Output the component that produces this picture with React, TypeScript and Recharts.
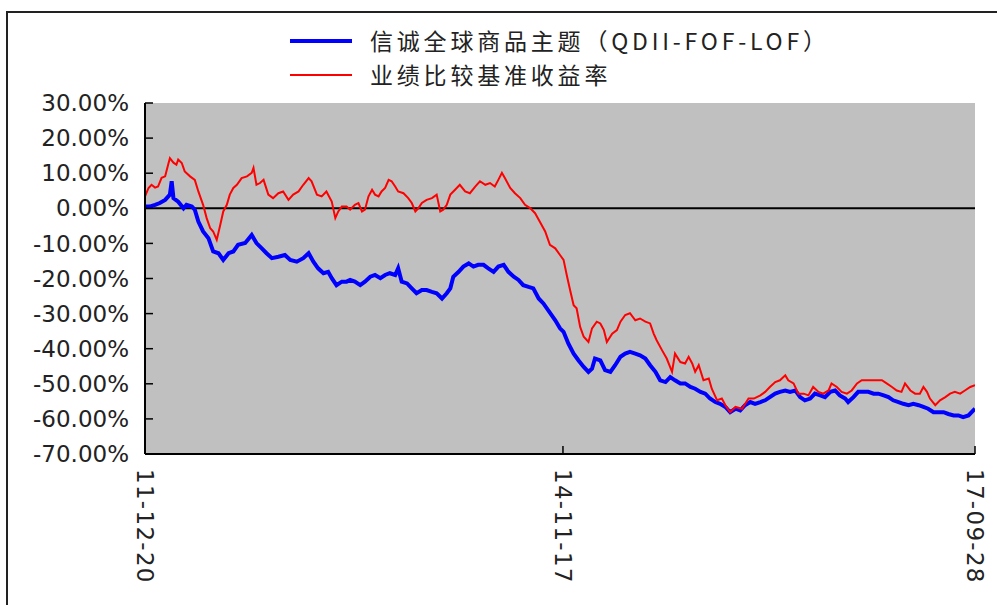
import { LineChart, Line, XAxis, YAxis, ReferenceLine, CartesianGrid } from 'recharts';

// series names + colours (legend order)
const seriesNames = ['信诚全球商品主题（QDII-FOF-LOF）', '业绩比较基准收益率'];
const seriesColors = ['#0000ff', '#ff0000'];

// x: trading day index from 2011-12-20
const dateTicks = [0, 705, 1400];
const dateLabels = ['11-12-20', '14-11-17', '17-09-28'];
const pctTicks = [30, 20, 10, 0, -10, -20, -30, -40, -50, -60, -70];

// fund cumulative return (%)
const fundDays = [
  0, 8, 17, 25, 34, 42, 45, 48, 56, 65, 70, 79, 84, 90, 98, 107, 115, 124, 132, 141, 149, 157, 169, 180, 188,
  197, 205, 214, 225, 236, 245, 256, 267, 276, 284, 292, 301, 309, 315, 323, 332, 340, 346, 354, 363, 371, 380,
  388, 397, 405, 413, 422, 427, 433, 442, 450, 458, 467, 475, 484, 492, 501, 509, 515, 520, 529, 537, 546, 554,
  562, 571, 579, 588, 596, 605, 613, 622, 630, 638, 647, 655, 664, 672, 692, 700, 706, 714, 723, 731, 740, 748,
  754, 759, 768, 776, 785, 793, 802, 810, 818, 827, 835, 844, 852, 861, 869, 878, 886, 894, 903, 911, 920, 928,
  937, 945, 953, 962, 970, 979, 987, 996, 1004, 1012, 1021, 1029, 1038, 1046, 1054, 1063, 1071, 1080, 1088, 1097,
  1105, 1113, 1122, 1130, 1139, 1147, 1156, 1164, 1172, 1181, 1186, 1195, 1203, 1212, 1220, 1229, 1237, 1246,
  1254, 1262, 1271, 1279, 1288, 1296, 1305, 1313, 1321, 1330, 1338, 1347, 1355, 1364, 1372, 1380, 1389, 1400,
];
const fundValues = [
  0.5, 0.5, 1, 1.5, 2.4, 3.9, 7.7, 2.9, 1.9, 0, 1, 0.5, -0.4, -3.8, -6.6, -8.5, -12.3, -12.8, -14.7, -12.8, -12.3,
  -10.4, -9.9, -7.6, -9.9, -11.4, -12.8, -14.2, -13.8, -13.3, -14.7, -15.2, -14.2, -12.8, -15.2, -17.1, -18.5,
  -18.1, -19.9, -21.9, -20.9, -20.9, -20.4, -20.9, -21.9, -20.9, -19.5, -19, -19.9, -19, -18.5, -19, -17.1, -20.9,
  -21.4, -22.8, -24.2, -23.3, -23.3, -23.8, -24.2, -25.7, -24.2, -22.8, -19.5, -18.1, -16.6, -15.7, -16.6, -16.1,
  -16.1, -17.1, -18.1, -16.6, -16.1, -18.1, -19.5, -20.4, -21.9, -22.4, -22.8, -25.7, -27.1, -31.9, -34.2, -35.2,
  -38.5, -41.4, -43.3, -45.2, -46.6, -45.7, -42.8, -43.3, -46.1, -46.6, -44.7, -42.3, -41.4, -40.9, -41.4, -41.9,
  -42.8, -44.7, -46.6, -49, -49.5, -48.1, -49, -49.9, -49.9, -50.9, -51.4, -52.3, -52.8, -54.2, -55.2, -55.7,
  -56.6, -58.1, -57.1, -57.6, -56.1, -55.2, -55.7, -55.2, -54.7, -53.8, -52.8, -52.3, -51.9, -52.3, -51.9, -53.8,
  -54.7, -54.2, -52.8, -53.3, -53.8, -52.3, -51.9, -53.3, -54.2, -55.2, -53.8, -52.3, -52.3, -52.3, -52.8, -52.8,
  -53.3, -53.8, -54.7, -55.2, -55.7, -56.1, -55.7, -56.1, -56.6, -57.1, -58.1, -58.1, -58.1, -58.6, -59, -59,
  -59.5, -59, -57.1,
];

// benchmark cumulative return (%)
const benchDays = [
  0, 6, 11, 17, 22, 28, 34, 39, 42, 48, 53, 56, 62, 67, 76, 84, 90, 98, 104, 110, 115, 121, 127, 132, 138, 143,
  149, 155, 163, 172, 180, 183, 188, 194, 200, 208, 216, 225, 233, 242, 250, 259, 267, 276, 281, 290, 298, 306,
  315, 321, 326, 332, 340, 346, 354, 360, 366, 371, 377, 383, 388, 394, 399, 405, 411, 416, 422, 427, 436, 444,
  450, 456, 461, 467, 475, 484, 492, 498, 503, 509, 515, 523, 531, 540, 548, 557, 565, 574, 582, 590, 596, 602,
  607, 616, 624, 633, 641, 650, 658, 666, 675, 683, 692, 700, 706, 712, 717, 723, 728, 734, 740, 748, 754, 762,
  768, 774, 779, 788, 796, 802, 810, 818, 827, 835, 844, 852, 858, 863, 872, 880, 889, 894, 903, 911, 917, 923,
  928, 934, 942, 951, 956, 965, 973, 979, 987, 996, 1007, 1018, 1027, 1038, 1046, 1054, 1063, 1071, 1080, 1085,
  1094, 1102, 1111, 1119, 1127, 1136, 1144, 1153, 1158, 1167, 1175, 1184, 1192, 1201, 1209, 1217, 1226, 1234,
  1243, 1251, 1260, 1268, 1276, 1282, 1291, 1299, 1307, 1313, 1319, 1324, 1333, 1341, 1350, 1358, 1366, 1375,
  1383, 1392, 1400,
];
const benchValues = [
  3.4, 5.8, 6.7, 5.9, 6.2, 8.7, 9.1, 12.4, 14.3, 13, 12.4, 13.9, 12.9, 10.5, 9.1, 8.1, 4.8, 1, -2.8, -5.7, -6.6,
  -9, -4.7, -0.9, 1, 3.9, 5.8, 6.7, 8.6, 9.1, 10.1, 11.5, 6.7, 7.2, 8.1, 3.9, 2.9, 4.3, 4.8, 2.4, 3.9, 4.8, 6.7,
  8.6, 7.7, 3.9, 3.4, 4.8, 1.9, -2.8, -0.9, 0.5, 0.5, -0.4, 1, 1.5, -0.9, -0.4, 3.4, 5.3, 3.9, 3.4, 4.8, 5.8,
  8.1, 7.7, 6.2, 4.8, 4.3, 2.9, 1.5, -0.9, 0, 1.5, 2.4, 2.9, 3.9, -0.9, -0.4, 1, 3.9, 5.3, 6.7, 4.8, 4.3, 6.2,
  7.7, 6.7, 7.2, 6.2, 8.1, 10.1, 8.6, 5.8, 4.3, 2.9, 1, 0, -1.4, -3.8, -6.6, -10.4, -11.4, -13.3, -14.7, -19.5,
  -23.3, -27.6, -28.5, -33.8, -36.6, -38.1, -34.2, -32.3, -32.8, -34.7, -38.1, -35.7, -34.7, -32.3, -30.4,
  -29.9, -31.9, -31.4, -32.3, -32.8, -35.7, -37.6, -40.4, -42.8, -46.6, -41.4, -43.8, -44.2, -42.3, -44.2,
  -46.6, -44.7, -49, -48.5, -51.4, -54.7, -54.2, -56.1, -58.1, -56.6, -57.1, -54.2, -54.2, -53.3, -52.3, -50.9,
  -49.5, -49, -47.6, -49, -49.9, -52.8, -52.8, -53.3, -50.9, -52.3, -52.8, -51.9, -49.9, -50.9, -52.3, -52.8,
  -51.9, -49.9, -49, -49, -49, -49, -49, -49.9, -50.9, -51.9, -52.3, -49.9, -51.9, -52.8, -52.8, -50.9, -52.3,
  -54.2, -56.1, -54.7, -53.8, -52.8, -52.3, -52.8, -51.9, -50.9, -50.4,
];

const fundData = fundDays.map((t, i) => ({ t, v: fundValues[i] }));
const benchData = benchDays.map((t, i) => ({ t, v: benchValues[i] }));

const labelFont = '"DejaVu Sans", sans-serif';
const cjkFont = '"Noto Sans CJK SC", sans-serif';

const DateTick = ({ x, y, payload }: any) => {
  const label = dateLabels[dateTicks.indexOf(payload.value)];
  return (
    <text
      x={x}
      y={y}
      dy="0.35em"
      transform={`rotate(90, ${x}, ${y})`}
      textAnchor="start"
      fill="#222"
      fontSize={23}
      fontFamily={labelFont}
      letterSpacing={1.3}
    >
      {label}
    </text>
  );
};

export default function App() {
  return (
    <div style={{ position: 'absolute', left: 0, top: 0, width: 997, height: 605, overflow: 'hidden', background: '#fff' }}>
      <div style={{ position: 'absolute', left: 6, top: 11, width: 1000, height: 620, border: '2px solid #222' }} />
      <LineChart
        width={997}
        height={605}
        margin={{ top: 103, right: 22, bottom: 0, left: 8 }}
        style={{ position: 'absolute', left: 0, top: 0 }}
      >
        <CartesianGrid fill="#c0c0c0" horizontal={false} vertical={false} />
        <XAxis
          type="number"
          dataKey="t"
          domain={[0, 1400]}
          ticks={dateTicks}
          height={151}
          tick={<DateTick />}
          tickSize={-8}
          tickMargin={23}
          axisLine={{ stroke: '#000', strokeWidth: 2 }}
          tickLine={{ stroke: '#000', strokeWidth: 1.5 }}
          allowDataOverflow
        />
        <XAxis
          xAxisId="top"
          orientation="top"
          type="number"
          dataKey="t"
          domain={[0, 1400]}
          ticks={[dateTicks[1]]}
          height={0}
          tickSize={-8}
          tickFormatter={() => ''}
          axisLine={{ stroke: '#000', strokeWidth: 2 }}
          tickLine={{ stroke: '#000', strokeWidth: 1.5 }}
        />
        <YAxis
          type="number"
          domain={[-70, 30]}
          ticks={pctTicks}
          width={137}
          interval={0}
          tickSize={-8}
          tickMargin={24}
          tickFormatter={(v: number) => `${v.toFixed(2)}%`}
          tick={{ fill: '#222', fontSize: 23, fontFamily: labelFont }}
          axisLine={{ stroke: '#000', strokeWidth: 2 }}
          tickLine={{ stroke: '#000', strokeWidth: 1.5 }}
          allowDataOverflow
        />
        <YAxis
          yAxisId="right"
          orientation="right"
          type="number"
          domain={[-70, 30]}
          ticks={pctTicks}
          width={0}
          interval={0}
          tickSize={-8}
          tickFormatter={() => ''}
          axisLine={{ stroke: '#000', strokeWidth: 2 }}
          tickLine={{ stroke: '#000', strokeWidth: 1.5 }}
        />
        <ReferenceLine y={0} stroke="#000" strokeWidth={2} />
        <Line
          data={fundData}
          dataKey="v"
          name={seriesNames[0]}
          stroke={seriesColors[0]}
          strokeWidth={4}
          dot={false}
          type="linear"
          isAnimationActive={false}
        />
        <Line
          data={benchData}
          dataKey="v"
          name={seriesNames[1]}
          stroke={seriesColors[1]}
          strokeWidth={2}
          dot={false}
          type="linear"
          isAnimationActive={false}
        />
      </LineChart>
      {seriesNames.map((name, i) => (
        <div
          key={name}
          style={{
            position: 'absolute',
            left: 290,
            top: 26 + i * 34,
            height: 29,
            lineHeight: '29px',
            display: 'flex',
            alignItems: 'center',
            fontFamily: cjkFont,
            fontSize: 23,
            letterSpacing: 3.8,
            color: '#222',
            whiteSpace: 'nowrap',
          }}
        >
          <span style={{ display: 'inline-block', width: 62, height: i === 0 ? 4 : 2, background: seriesColors[i], marginRight: 18 }} />
          {name}
        </div>
      ))}
    </div>
  );
}
